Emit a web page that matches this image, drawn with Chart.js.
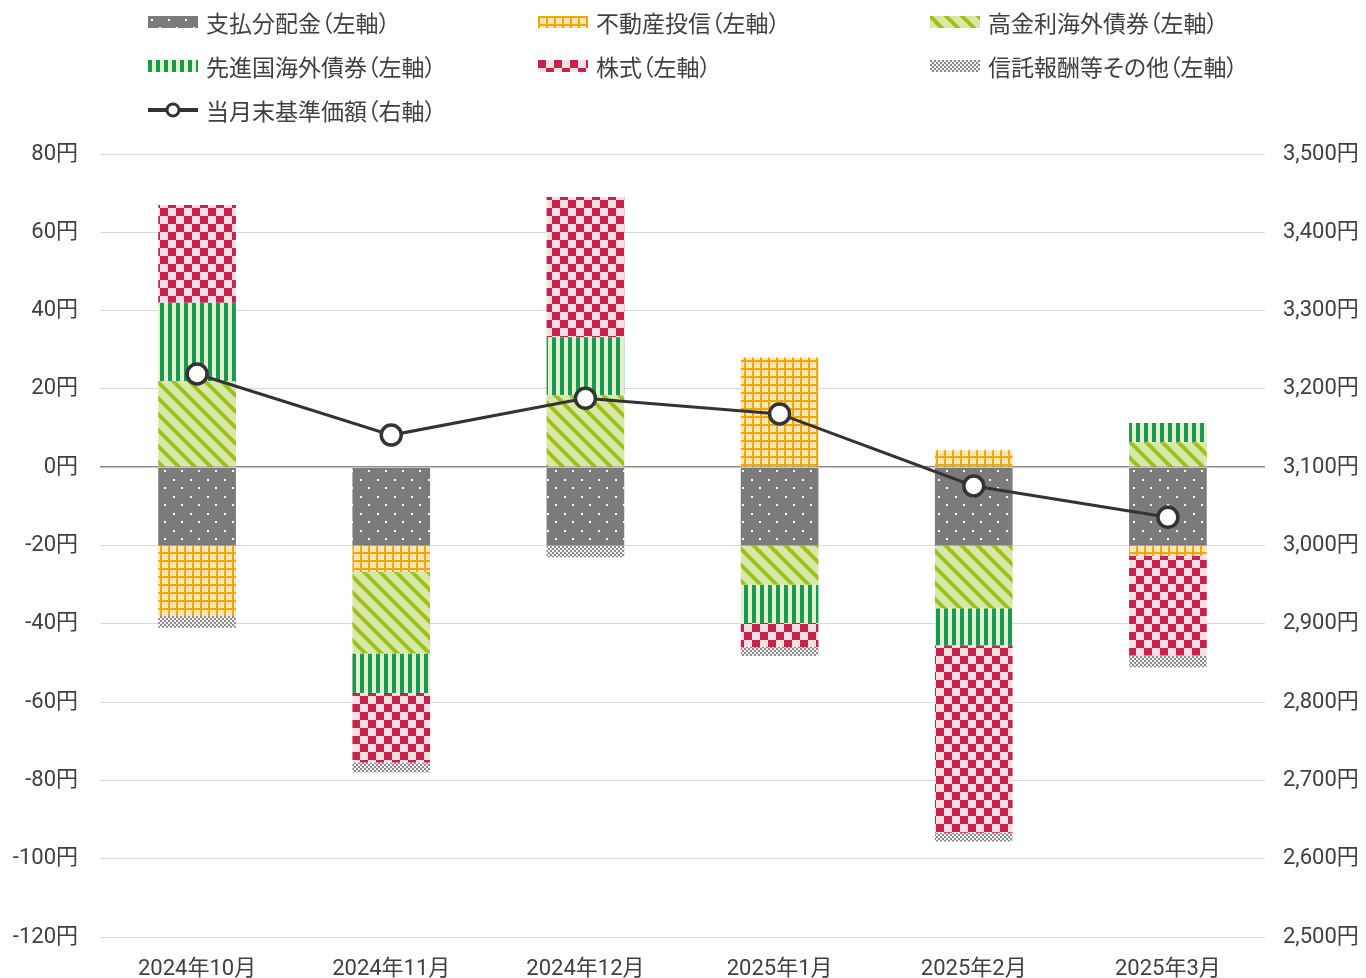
<!DOCTYPE html>
<html lang="ja">
<head>
<meta charset="utf-8">
<script src="https://cdn.jsdelivr.net/npm/chart.js@4.4.1/dist/chart.umd.min.js"></script>
<style>
  html, body { margin: 0; padding: 0; background: #fff; }
  #wrap { position: relative; width: 1366px; height: 978px; }
  #legend { position: absolute; left: 0; top: 0; width: 1366px; height: 140px; }
  .item { position: absolute; display: flex; align-items: center; height: 30px;
          font-family: Roboto, "Noto Sans CJK JP", sans-serif; font-size: 23px; color: #404040;
          font-feature-settings: "palt"; white-space: nowrap; }
  .item canvas { margin-right: 8px; }
</style>
</head>
<body>
<div id="wrap">
  <div id="legend"></div>
  <canvas id="chart" width="1366" height="978"></canvas>
</div>
<script>
// データ
const months = ['2024年10月', '2024年11月', '2024年12月', '2025年1月', '2025年2月', '2025年3月'];
const haitou   = [-20, -20, -20, -20, -20, -20];      // 支払分配金
const reit     = [-18, -6.8, 0, 28, 4.3, -2.7];        // 不動産投信
const highYield = [22, -20.8, 18.4, -10, -16, 6.4];    // 高金利海外債券
const devBond  = [20, -10.1, 14.8, -9.8, -9.5, 4.9];   // 先進国海外債券
const stocks   = [25, -17.7, 35.8, -6.1, -47.9, -25.4]; // 株式
const fees     = [-3, -2.6, -3, -2.3, -2.2, -3];       // 信託報酬等その他
const nav      = [3219, 3141, 3188, 3168, 3076, 3036]; // 当月末基準価額

const leftTicks = { min: -120, max: 80, step: 20 };
const rightTicks = { min: 2500, max: 3500, step: 100 };

// パターン作成
function makeTile(kind) {
    const c = document.createElement('canvas');
    const g = c.getContext('2d');
    if (kind === 'dots') {
        c.width = 17; c.height = 17;
        g.fillStyle = '#7b7b7b'; g.fillRect(0, 0, 17, 17);
        g.fillStyle = '#ffffff';
        g.fillRect(3, 3, 2, 2);
        g.fillRect(11, 11, 2, 2);
    } else if (kind === 'grid') {
        c.width = 8; c.height = 8;
        g.fillStyle = '#fde4bd'; g.fillRect(0, 0, 8, 8);
        g.fillStyle = '#f2a900';
        g.fillRect(0, 0, 8, 2);
        g.fillRect(0, 0, 2, 8);
    } else if (kind === 'diag') {
        c.width = 16; c.height = 16;
        g.fillStyle = '#d9e7a9'; g.fillRect(0, 0, 16, 16);
        g.strokeStyle = '#98c21c'; g.lineWidth = 4;
        for (let o = -16; o <= 16; o += 16) {
            g.beginPath(); g.moveTo(o - 2, -2); g.lineTo(o + 18, 18); g.stroke();
        }
    } else if (kind === 'vstripe') {
        c.width = 8; c.height = 8;
        g.fillStyle = '#e4f0c7'; g.fillRect(0, 0, 8, 8);
        g.fillStyle = '#179a57'; g.fillRect(0, 0, 4, 8);
    } else if (kind === 'checker') {
        c.width = 16; c.height = 16;
        g.fillStyle = '#f8dfe3'; g.fillRect(0, 0, 16, 16);
        g.fillStyle = '#c8214c';
        g.fillRect(0, 0, 8, 8); g.fillRect(8, 8, 8, 8);
    } else if (kind === 'fine') {
        c.width = 4; c.height = 4;
        g.fillStyle = '#f2f2f2'; g.fillRect(0, 0, 4, 4);
        g.fillStyle = '#8a8a8a';
        g.fillRect(0, 0, 2, 2); g.fillRect(2, 2, 2, 2);
    }
    return c;
}

const ctxMain = document.getElementById('chart').getContext('2d');
function pat(kind) { return ctxMain.createPattern(makeTile(kind), 'repeat'); }

const series = [
    { label: '支払分配金（左軸）', data: haitou, kind: 'dots' },
    { label: '不動産投信（左軸）', data: reit, kind: 'grid' },
    { label: '高金利海外債券（左軸）', data: highYield, kind: 'diag' },
    { label: '先進国海外債券（左軸）', data: devBond, kind: 'vstripe' },
    { label: '株式（左軸）', data: stocks, kind: 'checker' },
    { label: '信託報酬等その他（左軸）', data: fees, kind: 'fine' }
];

const datasets = series.map(s => ({
    type: 'bar',
    label: s.label,
    data: s.data,
    backgroundColor: pat(s.kind),
    borderWidth: 0,
    barPercentage: 0.8,
    categoryPercentage: 0.5,
    yAxisID: 'y',
    order: 1
}));

datasets.push({
    type: 'line',
    label: '当月末基準価額（右軸）',
    data: nav,
    borderColor: '#333333',
    borderWidth: 3,
    pointRadius: 10,
    pointBorderWidth: 3.5,
    pointBackgroundColor: '#ffffff',
    pointBorderColor: '#333333',
    tension: 0,
    yAxisID: 'y2',
    order: 0
});

// 凡例（HTML）
const legendPos = [
    [148, 7], [538, 7], [930, 7],
    [148, 51], [538, 51], [930, 51],
    [148, 95]
];
const legendEl = document.getElementById('legend');
series.forEach((s, i) => {
    const div = document.createElement('div');
    div.className = 'item';
    div.style.left = legendPos[i][0] + 'px';
    div.style.top = legendPos[i][1] + 'px';
    const sw = document.createElement('canvas');
    sw.width = 50; sw.height = 12;
    const g = sw.getContext('2d');
    g.fillStyle = g.createPattern(makeTile(s.kind), 'repeat');
    g.fillRect(0, 0, 50, 12);
    div.appendChild(sw);
    div.appendChild(document.createTextNode(s.label));
    legendEl.appendChild(div);
});
{
    const div = document.createElement('div');
    div.className = 'item';
    div.style.left = legendPos[6][0] + 'px';
    div.style.top = legendPos[6][1] + 'px';
    const sw = document.createElement('canvas');
    sw.width = 50; sw.height = 20;
    const g = sw.getContext('2d');
    g.strokeStyle = '#333'; g.lineWidth = 4;
    g.beginPath(); g.moveTo(0, 10); g.lineTo(50, 10); g.stroke();
    g.fillStyle = '#fff'; g.lineWidth = 3;
    g.beginPath(); g.arc(25, 10, 6, 0, Math.PI * 2); g.fill(); g.stroke();
    div.appendChild(sw);
    div.appendChild(document.createTextNode('当月末基準価額（右軸）'));
    legendEl.appendChild(div);
}

const tickFont = { family: 'Roboto, "Noto Sans CJK JP", sans-serif', size: 22 };

new Chart(ctxMain, {
    data: { labels: months, datasets: datasets },
    options: {
        responsive: false,
        animation: false,
        layout: { padding: { top: 154, bottom: 0, left: 0, right: 0 } },
        plugins: {
            legend: { display: false },
            tooltip: { enabled: false }
        },
        scales: {
            x: {
                stacked: true,
                grid: { display: false, drawTicks: false },
                border: { display: false },
                ticks: { color: '#404040', font: tickFont, padding: 19, maxRotation: 0 },
                afterFit: s => { s.height = 41; }
            },
            y: {
                position: 'left',
                stacked: true,
                min: leftTicks.min,
                max: leftTicks.max,
                ticks: {
                    stepSize: leftTicks.step,
                    color: '#404040',
                    font: tickFont,
                    padding: 22,
                    callback: v => v + '円'
                },
                grid: {
                    drawTicks: false,
                    color: c => c.tick.value === 0 ? '#8c8c8c' : '#d9d9d9',
                    lineWidth: c => c.tick.value === 0 ? 1.5 : 1
                },
                border: { display: false },
                afterFit: s => { s.width = 100; }
            },
            y2: {
                position: 'right',
                min: rightTicks.min,
                max: rightTicks.max,
                ticks: {
                    stepSize: rightTicks.step,
                    color: '#404040',
                    font: tickFont,
                    padding: 18,
                    callback: v => v.toLocaleString('en-US') + '円'
                },
                grid: { display: false, drawTicks: false },
                border: { display: false },
                afterFit: s => { s.width = 101; }
            }
        }
    }
});
</script>
</body>
</html>
